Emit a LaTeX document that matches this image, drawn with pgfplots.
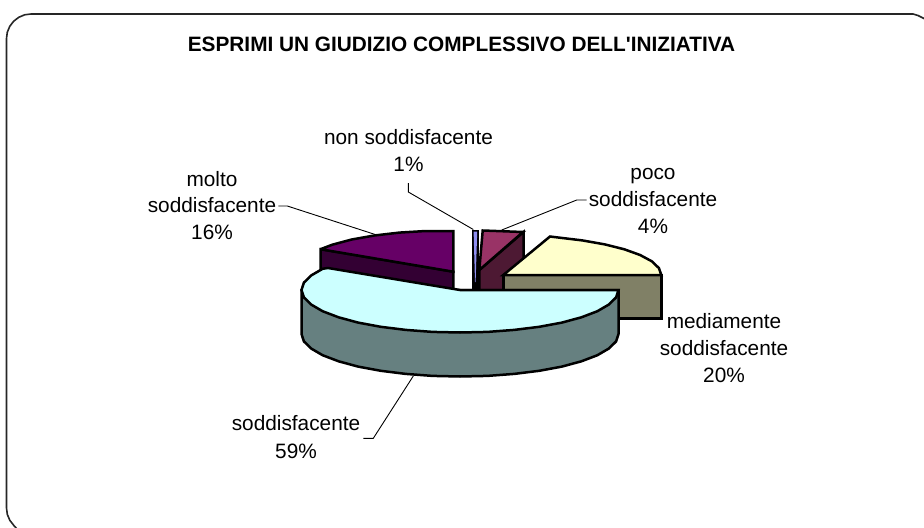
\documentclass[border=0pt]{standalone}
\usepackage{pgfplots}
\pgfplotsset{compat=1.18}
\usepackage{fontspec}
\setmainfont{Liberation Sans}
\definecolor{cyanT}{HTML}{CCFFFF}\definecolor{cyanS}{HTML}{668080}
\definecolor{yelT}{HTML}{FFFFCC}\definecolor{yelS}{HTML}{808066}
\definecolor{purT}{HTML}{660066}\definecolor{purS}{HTML}{330033}
\definecolor{marT}{HTML}{993366}\definecolor{marS}{HTML}{4D1933}
\definecolor{bluT}{HTML}{8F8FF0}
\tikzset{
  pie/.style={draw=black,line width=2.5bp,line join=miter,miter limit=3},
  lead/.style={draw=black,line width=0.9bp},
  lab/.style={anchor=base,font=\fontsize{20.8bp}{24bp}\selectfont,inner sep=0pt,text=black}}
\begin{document}
\begin{tikzpicture}
\useasboundingbox (0,0) rectangle (924bp,528bp);
\begin{axis}[at={(0,0)},anchor=south west,width=924bp,height=528bp,scale only axis,xmin=0,xmax=924,ymin=0,ymax=528,y dir=reverse,
  axis lines=none,clip=true]
% frame
\addplot[draw=black!85,line width=1.6bp] coordinates {(17,529)(13.7,525.3)(9.8,520.25)(7.3,514.3)(6.5,508)(6.5,38.5)(7.3,32.2)(9.8,26.25)(13.7,21.2)(18.75,17.3)(24.65,14.8)(31,14)(913,14)(918,15.5)(925,19)};
% poco soddisfacente 4%
\addplot[pie,fill=marS] coordinates {(479.3,270)(523.5,232)(523.5,276)(479.3,314)} -- cycle;
\addplot[pie,fill=marT] coordinates {(482.7,230.5)(523,232)(479.3,270)} -- cycle;
% non soddisfacente 1%
\addplot[draw=black,fill=black,line width=0.5bp] coordinates {(472.3,230)(478.5,230)(478.5,290)(472.3,290)} -- cycle;
\addplot[draw=none,fill=bluT] coordinates {(473.6,231.5)(477.2,231.5)(475.6,282)(475,282)} -- cycle;
% molto soddisfacente 16%
\addplot[pie,fill=purS] coordinates {(320.5,249.2)(453.3,271.7)(453.3,315.7)(320.5,293.2)} -- cycle;
\addplot[pie,fill=purT] coordinates {(453.3,231)(425.8,231)(399.3,232.6)(374.3,235.5)(351.7,239.5)(332.3,244.7)(320.5,249.2)(453.3,271.7)} -- cycle;
% mediamente soddisfacente 20%
\addplot[pie,fill=yelS] coordinates {(503.3,275)(661.3,275)(661.3,318.5)(503.3,318.5)} -- cycle;
\addplot[pie,fill=yelT] coordinates {(503.3,275)(661.3,275)(658.9,268.1)(651.8,261.3)(640.1,255)(624.3,249.3)(604.9,244.4)(582.3,240.4)(557.3,237.4)(550,236.5)} -- cycle;
% soddisfacente 59%
\addplot[pie,fill=cyanS] coordinates {(618.5,290)(618.5,334)(616.1,341.4)(608.9,348.5)(597.3,355.25)(581.4,361.3)(561.9,366.6)(539.25,370.8)(514.2,373.9)(487.5,375.9)(460,376.5)(432.5,375.9)(405.8,373.9)(380.75,370.8)(358.1,366.6)(338.6,361.3)(322.7,355.25)(311.1,348.5)(303.9,341.4)(301.5,334)(301.5,290)} -- cycle;
\addplot[pie,fill=cyanT] coordinates {(460,290)(618.5,290)(616.1,297.4)(608.9,304.5)(597.3,311.25)(581.4,317.3)(561.9,322.6)(539.25,326.8)(514.2,329.9)(487.5,331.9)(460,332.5)(432.5,331.9)(405.8,329.9)(380.75,326.8)(358.1,322.6)(338.6,317.3)(322.7,311.25)(311.1,304.5)(303.9,297.4)(301.5,290)(303.9,282.6)(311.1,275.5)(322.7,268.75)(328,268)} -- cycle;
% leaders
\addplot[lead] coordinates {(408.3,183)(408.3,192)(473.3,229.5)};
\addplot[lead] coordinates {(278.3,206)(287.3,206)(376.7,235)};
\addplot[lead] coordinates {(586.7,200)(576.7,200)(501.7,230)};
\addplot[lead] coordinates {(363.3,438.3)(373.3,438.3)(413.3,376)};
% text
\node[lab,font=\bfseries\fontsize{20.8bp}{24bp}\selectfont] at (axis cs:461.5,52) {ESPRIMI UN GIUDIZIO COMPLESSIVO DELL\textquotesingle INIZIATIVA};
\node[lab] at (axis cs:408.5,144) {non soddisfacente};
\node[lab] at (axis cs:408.5,171.5) {1\%};
\node[lab] at (axis cs:212,186) {molto};
\node[lab] at (axis cs:212,212.5) {soddisfacente};
\node[lab] at (axis cs:212,239) {16\%};
\node[lab] at (axis cs:653,179.5) {poco};
\node[lab] at (axis cs:653,206.5) {soddisfacente};
\node[lab] at (axis cs:653,233.5) {4\%};
\node[lab] at (axis cs:724,328) {mediamente};
\node[lab] at (axis cs:724,355) {soddisfacente};
\node[lab] at (axis cs:724,382) {20\%};
\node[lab] at (axis cs:296,430.5) {soddisfacente};
\node[lab] at (axis cs:296,458) {59\%};
\end{axis}
\end{tikzpicture}
\end{document}
